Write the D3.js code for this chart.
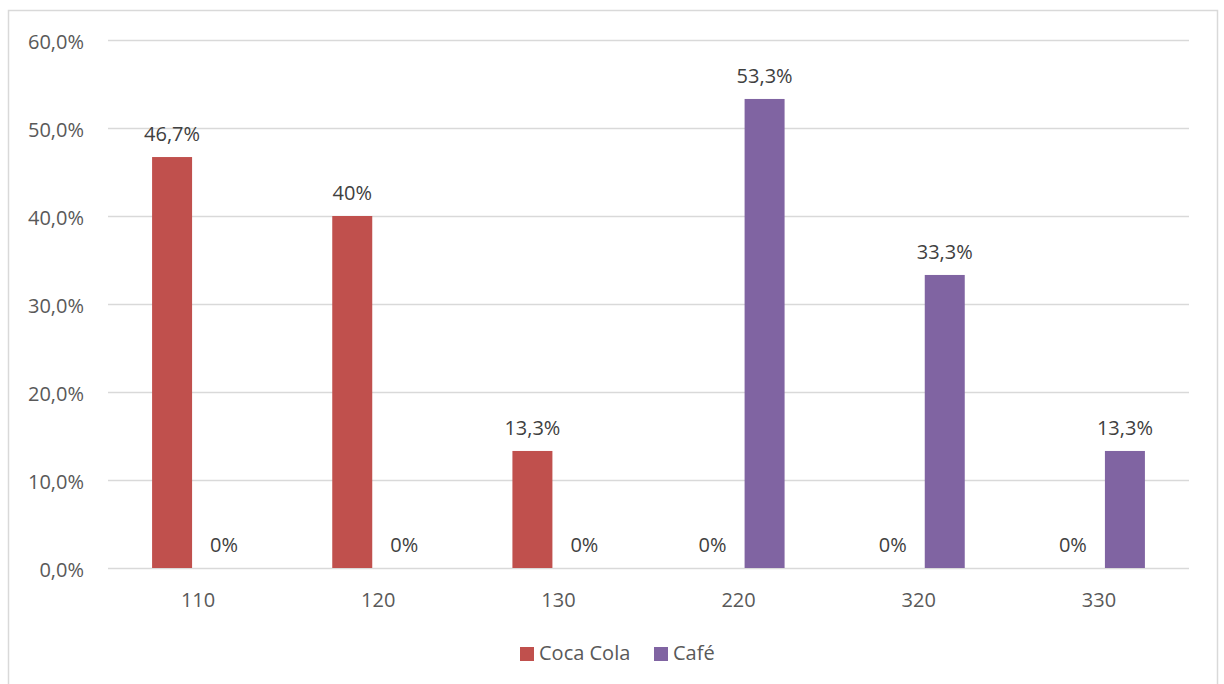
<!DOCTYPE html>
<html>
<head>
<meta charset="utf-8">
<script src="https://cdn.jsdelivr.net/npm/d3@7"></script>
<style>
  html, body { margin: 0; padding: 0; background: #fff; overflow: hidden; }
  text { font-family: "Open Sans", "Noto Sans", sans-serif; }
</style>
</head>
<body>
<div id="chart"></div>
<script>
// Données
const categories = ["110", "120", "130", "220", "320", "330"];
const seriesNames = ["Coca Cola", "Café"];
const cocaCola = [0.467, 0.40, 0.133, 0, 0, 0];
const cafe = [0, 0, 0, 0.533, 0.333, 0.133];
const yTicks = [0, 0.1, 0.2, 0.3, 0.4, 0.5, 0.6];
const colors = ["#C0504D", "#8064A2"];

function createChart() {
    const width = 1224;
    const height = 684;

    const svg = d3.select("#chart")
        .append("svg")
        .attr("width", width)
        .attr("height", height);

    // Cadre du graphique
    svg.append("rect")
        .attr("x", 8.5)
        .attr("y", 10.5)
        .attr("width", 1209)
        .attr("height", 720)
        .attr("fill", "#fff")
        .attr("stroke", "#d9d9d9")
        .attr("stroke-width", 1.5);

    // Échelles
    const x0 = d3.scaleBand()
        .domain(categories)
        .range([108, 1189])
        .padding(0);

    const x1 = d3.scaleBand()
        .domain(seriesNames)
        .range([-46, 46])
        .paddingInner(0.231)
        .paddingOuter(0);

    const y = d3.scaleLinear()
        .domain([0, 0.6])
        .range([568, 40]);

    const fmtAxis = v => (v * 100).toFixed(1).replace(".", ",") + "%";
    const fmtLabel = v => {
        const p = Math.round(v * 1000) / 10;
        return (Number.isInteger(p) ? p.toString() : p.toFixed(1).replace(".", ",")) + "%";
    };

    // Grille + axe Y
    const yAxis = d3.axisLeft(y)
        .tickValues(yTicks)
        .tickSize(-(1189 - 108))
        .tickPadding(24)
        .tickFormat(fmtAxis);

    const gy = svg.append("g")
        .attr("transform", "translate(108,0)")
        .call(yAxis);
    gy.select(".domain").remove();
    gy.selectAll(".tick line")
        .attr("stroke", "#d9d9d9")
        .attr("stroke-width", 1.5);
    gy.selectAll(".tick text")
        .attr("fill", "#595959")
        .attr("dy", "0.4em")
        .style("font-size", "20px");

    // Axe X
    const xAxis = d3.axisBottom(x0).tickSize(0).tickPadding(25);
    const gx = svg.append("g")
        .attr("transform", "translate(0,568)")
        .call(xAxis);
    gx.select(".domain").remove();
    gx.selectAll(".tick text")
        .attr("fill", "#595959")
        .style("font-size", "20px");

    // Données par série
    const series = [cocaCola, cafe];
    const rows = [];
    series.forEach((vals, si) => {
        vals.forEach((v, ci) => {
            rows.push({ serie: seriesNames[si], cat: categories[ci], value: v, color: colors[si] });
        });
    });

    const cx = d => x0(d.cat) + x0.bandwidth() / 2 + x1(d.serie);

    svg.selectAll(".bar")
        .data(rows.filter(d => d.value > 0))
        .enter()
        .append("rect")
        .attr("class", "bar")
        .attr("x", d => cx(d))
        .attr("y", d => y(d.value))
        .attr("width", x1.bandwidth())
        .attr("height", d => y(0) - y(d.value))
        .attr("fill", d => d.color);

    svg.selectAll(".val")
        .data(rows)
        .enter()
        .append("text")
        .attr("class", "val")
        .attr("x", d => cx(d) + x1.bandwidth() / 2)
        .attr("y", d => y(d.value) - 16)
        .attr("text-anchor", "middle")
        .attr("fill", "#404040")
        .style("font-size", "20px")
        .text(d => fmtLabel(d.value));

    // Légende
    const legend = svg.append("g").attr("transform", "translate(520,647)");
    const legendX = [0, 134];
    seriesNames.forEach((name, i) => {
        const g = legend.append("g").attr("transform", `translate(${legendX[i]},0)`);
        g.append("rect")
            .attr("width", 14)
            .attr("height", 14)
            .attr("fill", colors[i]);
        g.append("text")
            .attr("x", 19)
            .attr("y", 13)
            .attr("fill", "#595959")
            .style("font-size", "20px")
            .text(name);
    });
}

createChart();
</script>
</body>
</html>
